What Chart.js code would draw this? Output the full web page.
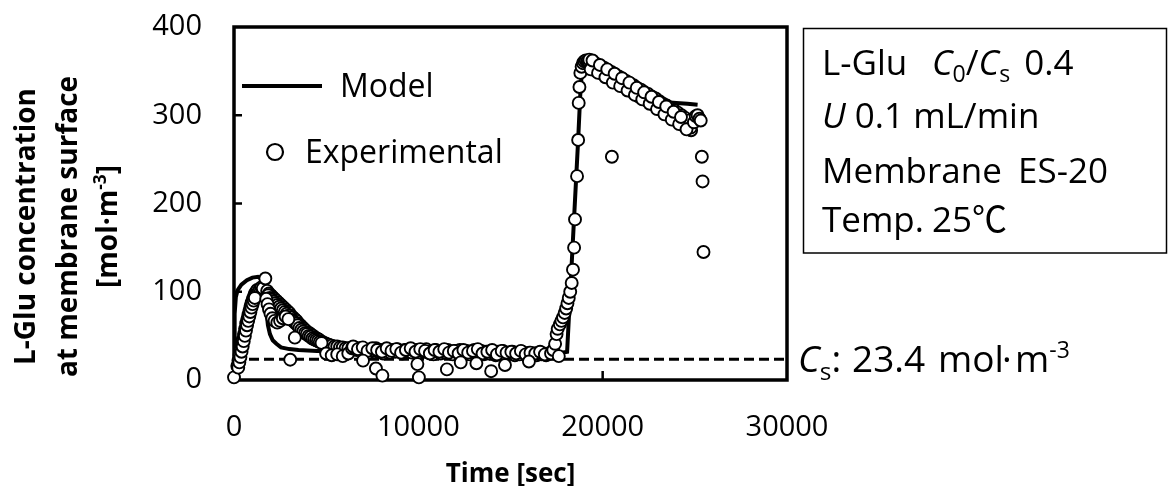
<!DOCTYPE html>
<html>
<head>
<meta charset="utf-8">
<script src="https://cdn.jsdelivr.net/npm/chart.js@4.4.1/dist/chart.umd.min.js"></script>
<style>
  html, body { margin: 0; padding: 0; background: #fff; }
</style>
</head>
<body>
<canvas id="gluChart" width="1169" height="486"></canvas>
<script>
/* Data */
const xTicks = [0, 10000, 20000, 30000];
const yTicks = [0, 100, 200, 300, 400];
const csValue = 23.4;

// model curve
const modelTime = [0, 20, 50, 100, 200, 400, 700, 1000, 1300, 1450, 1600, 1680, 1740, 1840, 1950, 2100, 2300, 2550, 3000, 3500, 4500, 6000, 8000, 10000, 12000, 14000, 16000, 17000, 17800, 18070, 18670, 18800, 18900, 19050, 19200, 19600, 20000, 20500, 21000, 21500, 22000, 22500, 22850, 23300, 24000, 24600, 25150];
const modelConc = [0, 45, 75, 94, 102, 108, 113, 116, 117, 115, 108, 99, 82, 62, 52, 45, 41, 37, 35, 34, 33, 33, 32, 31, 31, 30, 30, 30, 31, 32, 272, 330, 355, 362, 361, 358, 353, 347, 340, 334, 328, 322, 317, 315, 314, 313, 312];

// experimental points
const expTime = [
  0, 180, 240, 300, 360, 420, 480, 540, 600, 660, 720, 780, 840, 900, 960, 1020, 1080, 1140, 1200, 1260, 1330, 1400, 1480, 1560, 1700,
  230, 290, 350, 410, 470, 530, 590, 650, 710, 770, 830, 890, 950, 1010, 1070, 1130,
  1800, 1900, 2000, 2100, 2200, 2300, 2400, 2500, 2600, 2700, 2800, 2900, 3000, 3100, 3200, 3300, 3400, 3500, 3600, 3700,
  3800, 3900, 4000, 4100, 4200, 4300, 4400, 4500, 4600, 4700, 4800, 4900, 5000, 5150, 5300, 5450, 5600, 5750, 5900, 6050, 6200,
  1850, 1950, 2050, 2150, 2250, 2350, 2450, 2550, 2650, 2750, 2850, 2950, 3050, 3150, 3250,
  3350, 3450, 3550, 3650, 3750, 3850, 3950, 4050, 4150, 4250, 4350, 4450, 4550, 4650, 4750,
  1750, 1820, 1900, 1980, 2080, 2200, 2350, 2500, 2650, 2800, 2950,
  3050, 3300, 5000, 5300, 5600, 5900, 6200,
  6400, 6530, 6660, 6790, 6920, 7050, 7180, 7310, 7440, 7570,
  7700, 7830, 7960, 8090, 8220, 8350, 8480, 8610, 8740, 8870,
  9000, 9130, 9260, 9390, 9520, 9650, 9780, 9910, 10040, 10170,
  10300, 10430, 10560, 10690, 10820, 10950, 11080, 11210, 11340, 11470,
  11600, 11730, 11860, 11990, 12120, 12250, 12380, 12510, 12640, 12770,
  12900, 13030, 13160, 13290, 13420, 13550, 13680, 13810, 13940, 14070,
  14200, 14330, 14460, 14590, 14720, 14850, 14980, 15110, 15240, 15370,
  15500, 15630, 15760, 15890, 16020, 16150, 16280, 16410, 16540, 16670,
  16800, 16930, 17060,
  6465, 6725, 6985, 7245, 7505, 7765, 8025, 8285, 8545, 8805,
  9065, 9325, 9585, 9845, 10105, 10365, 10625, 10885, 11145, 11405,
  11665, 11925, 12185, 12445, 12705, 12965, 13225, 13485, 13745, 14005,
  14265, 14525, 14785, 15045, 15305, 15565, 15825, 16085, 16345, 16605,
  16865,
  7000, 7700, 8050, 9950, 10030, 11550, 12300, 13150, 13950, 14700, 16000,
  17200, 17320, 17420, 17500, 17560, 17620, 17680, 17760, 17850, 17940, 18020, 18090, 18160, 18240, 18320,
  18390, 18450, 18500, 18610, 18670, 18700, 18740, 18790, 18860, 18930, 19000, 19080, 19160, 19240,
  19300, 19400, 19500, 19600, 19700, 19800, 19900, 20000, 20100, 20200,
  20300, 20400, 20500, 20600, 20700, 20800, 20900, 21000, 21100, 21200,
  21300, 21400, 21500, 21600, 21700, 21800, 21900, 22000, 22100, 22200,
  22300, 22400, 22500, 22600, 22700, 22800, 22900, 23000, 23100, 23200,
  23300, 23400, 23500, 23600, 23700, 23800, 23900, 24000, 24100, 24200,
  24300, 24400, 24500, 24600, 24700, 24800,
  19275, 19375, 19475, 19575, 19675, 19775, 19875, 19975, 20075, 20175,
  20275, 20375, 20475, 20575, 20675, 20775, 20875, 20975, 21075, 21175,
  21275, 21375, 21475, 21575, 21675, 21775, 21875, 21975, 22075, 22175,
  22275, 22375, 22475, 22575, 22675, 22775, 22875, 22975, 23075, 23175,
  23275, 23375, 23475, 23575, 23675, 23775, 23875, 23975, 24075, 24175,
  24275, 24375, 24475, 24575, 24675, 24775,
  19350, 19750, 20150, 20550, 20950, 21350, 21750, 22150, 22550, 22950, 23350, 23750, 24150, 24550,
  19450, 19850, 20250, 20650, 21050, 21450, 21850, 22250, 22650, 23050, 23450, 23850, 24250,
  24950, 25050, 25150, 25250, 25320,
  20500, 25380, 25420, 25470
];
const expConc = [
  3, 16, 22, 28, 34, 40, 46, 52, 58, 64, 69, 74, 79, 84, 88, 92, 95, 98, 100, 102, 100, 103, 105, 104, 115,
  14, 20, 26, 32, 38, 44, 50, 56, 62, 67, 72, 77, 82, 86, 90, 93,
  101, 98, 96, 94, 92, 90, 88, 86, 84, 82, 80, 78, 76, 73, 71, 69, 67, 64, 62, 60,
  58, 56, 54, 53, 51, 50, 48, 47, 46, 44, 43, 42, 41, 40, 39, 38, 38, 37, 37, 36, 36,
  96, 93, 91, 89, 87, 85, 83, 81, 79, 77, 75, 73, 71, 68, 66,
  64, 62, 59, 57, 55, 53, 52, 50, 49, 47, 46, 45, 44, 43, 42,
  92, 86, 80, 75, 70, 67, 65, 67, 70, 72, 69,
  23, 48, 30, 28, 29, 27, 30,
  36, 37, 34, 36, 33, 35, 34, 31, 35, 33,
  36, 32, 34, 30, 35, 33, 31, 34, 32, 35,
  33, 30, 34, 32, 35, 31, 33, 34, 30, 33,
  32, 35, 31, 33, 29, 34, 32, 30, 33, 31,
  34, 32, 29, 33, 31, 34, 30, 32, 33, 29,
  32, 34, 30, 31, 33, 29, 32, 30, 33, 31,
  28, 32, 30, 33, 29, 31, 30, 32, 28, 31,
  29, 32, 30, 28, 31, 29, 30, 28, 31, 29,
  30, 28, 30,
  38, 35, 37, 33, 36, 34, 32, 36, 33, 35,
  31, 34, 36, 32, 35, 33, 30, 34, 32, 35,
  31, 33, 30, 34, 31, 33, 35, 30, 32, 34,
  29, 33, 31, 32, 30, 33, 29, 31, 30, 32,
  29,
  22, 13, 5, 18, 3, 12, 20, 19, 10, 17, 21,
  30, 34, 41, 52, 58, 27, 63, 67, 71, 76, 81, 87, 93, 100, 110,
  125, 150, 182, 231, 272, 314, 332, 348, 355, 359, 361, 362, 361, 360,
  358, 356, 357, 354, 352, 353, 350, 349, 347, 348,
  345, 344, 342, 343, 340, 338, 339, 336, 335, 333,
  334, 331, 329, 330, 327, 325, 326, 323, 321, 322,
  319, 317, 318, 315, 313, 312, 310, 309, 307, 308,
  305, 303, 302, 300, 299, 297, 296, 294, 293, 291,
  290, 288, 287, 286, 284, 283,
  363, 353, 361, 351, 358, 349, 356, 347, 354, 344,
  351, 342, 349, 339, 346, 337, 344, 334, 341, 332,
  339, 329, 336, 327, 334, 324, 331, 321, 329, 319,
  326, 317, 324, 314, 321, 312, 319, 309, 316, 306,
  313, 304, 311, 301, 308, 299, 306, 296, 303, 293,
  300, 291, 297, 288, 294, 286,
  352, 348, 343, 337, 333, 328, 323, 318, 313, 307, 301, 295, 290, 284,
  362, 357, 352, 347, 342, 337, 331, 326, 321, 315, 310, 304, 298,
  292, 299, 300, 296, 294,
  253, 253, 225, 145
];

const FONT = "'Open Sans', 'Noto Sans CJK JP', sans-serif";

/* draws a run of text pieces (italic / subscript / superscript) from x */
function drawRuns(ctx, x, y, runs, size, weight) {
  runs.forEach((r) => {
    let s = size;
    let dy = 0;
    if (r.sub) { s = size * 0.66; dy = size * 0.2; }
    if (r.sup) { s = size * 0.62; dy = -size * 0.38; }
    ctx.font = (r.it ? "italic " : "") + (weight || "normal") + " " + s + "px " + FONT;
    ctx.fillText(r.t, x, y + dy);
    x += ctx.measureText(r.t).width;
  });
  return x;
}

function runsWidth(ctx, runs, size, weight) {
  let w = 0;
  runs.forEach((r) => {
    const s = r.sub ? size * 0.66 : r.sup ? size * 0.62 : size;
    ctx.font = (r.it ? "italic " : "") + (weight || "normal") + " " + s + "px " + FONT;
    w += ctx.measureText(r.t).width;
  });
  return w;
}

// axis frame and inward tick marks
const framePlugin = {
  id: "frame",
  beforeDatasetsDraw(chart) {
    const { ctx, chartArea: a } = chart;
    const { x, y } = chart.scales;
    ctx.save();
    ctx.strokeStyle = "#000";
    ctx.lineWidth = 3.5;
    ctx.strokeRect(a.left, a.top, a.right - a.left, a.bottom - a.top);
    ctx.lineWidth = 2.5;
    ctx.beginPath();
    yTicks.slice(1, -1).forEach((v) => {
      const py = y.getPixelForValue(v);
      ctx.moveTo(a.left, py);
      ctx.lineTo(a.left + 8, py);
    });
    xTicks.slice(1, -1).forEach((v) => {
      const px = x.getPixelForValue(v);
      ctx.moveTo(px, a.bottom);
      ctx.lineTo(px, a.bottom - 9);
    });
    ctx.stroke();
    ctx.restore();
  },
};

// legend, condition box, Cs label and axis titles
const notesPlugin = {
  id: "notes",
  afterDraw(chart) {
    const { ctx, chartArea: a } = chart;
    const y = chart.scales.y;
    ctx.save();
    ctx.fillStyle = "#000";
    ctx.strokeStyle = "#000";
    ctx.textAlign = "left";
    ctx.textBaseline = "alphabetic";

    // legend
    ctx.lineWidth = 4;
    ctx.beginPath();
    ctx.moveTo(242, 86);
    ctx.lineTo(322, 86);
    ctx.stroke();
    ctx.font = "32px " + FONT;
    ctx.fillText("Model", 340, 97);
    ctx.beginPath();
    ctx.arc(275, 152, 8, 0, Math.PI * 2);
    ctx.fillStyle = "#fff";
    ctx.fill();
    ctx.lineWidth = 2.2;
    ctx.stroke();
    ctx.fillStyle = "#000";
    ctx.fillText("Experimental", 305, 163);

    // condition box
    ctx.lineWidth = 1.5;
    ctx.strokeRect(803.5, 28.5, 363, 224.5);
    const bs = 35;
    drawRuns(ctx, 822, 75, [{ t: "L-Glu" }], bs);
    const ratioEnd = drawRuns(ctx, 932, 75, [{ t: "C", it: 1 }, { t: "0", sub: 1 }, { t: "/" }, { t: "C", it: 1 }, { t: "s", sub: 1 }], bs);
    drawRuns(ctx, ratioEnd + 14, 75, [{ t: "0.4" }], bs);
    drawRuns(ctx, 822, 128, [{ t: "U", it: 1 }, { t: " 0.1 mL/min" }], bs);
    drawRuns(ctx, 822, 183, [{ t: "Membrane" }], bs);
    drawRuns(ctx, 1018, 183, [{ t: "ES-20" }], bs);
    drawRuns(ctx, 822, 232, [{ t: "Temp." }], bs);
    drawRuns(ctx, 932, 232, [{ t: "25℃" }], bs);

    // Cs label next to the dashed line
    const cy = y.getPixelForValue(csValue) + 13;
    const cs = 37;
    drawRuns(ctx, 798, cy, [{ t: "C", it: 1 }, { t: "s", sub: 1 }, { t: ":" }], cs);
    drawRuns(ctx, 852, cy, [{ t: "23.4" }], cs);
    drawRuns(ctx, 938, cy, [{ t: "mol" }], cs);
    drawRuns(ctx, 1002, cy, [{ t: "·" }], cs);
    drawRuns(ctx, 1015, cy, [{ t: "m" }, { t: "-3", sup: 1 }], cs);

    // y axis title, three rotated lines
    const ts = 28;
    const midY = (a.top + a.bottom) / 2 + 23;
    const lines = [
      { base: 35, runs: [{ t: "L-Glu concentration" }] },
      { base: 77, runs: [{ t: "at membrane surface" }] },
      { base: 117, runs: [{ t: "[mol·m" }, { t: "-3", sup: 1 }, { t: "]" }] },
    ];
    lines.forEach((ln) => {
      ctx.save();
      ctx.translate(ln.base, midY);
      ctx.rotate(-Math.PI / 2);
      const w = runsWidth(ctx, ln.runs, ts, "bold");
      drawRuns(ctx, -w / 2, 0, ln.runs, ts, "bold");
      ctx.restore();
    });

    // x axis title
    ctx.font = "bold 26px " + FONT;
    ctx.textAlign = "center";
    ctx.fillText("Time [sec]", (a.left + a.right) / 2, 482);
    ctx.restore();
  },
};

const expPoints = expTime.map((t, i) => ({ x: t, y: expConc[i] }));
const modelPoints = modelTime.map((t, i) => ({ x: t, y: modelConc[i] }));
const csPoints = [
  { x: xTicks[0], y: csValue },
  { x: xTicks[xTicks.length - 1], y: csValue },
];

new Chart(document.getElementById("gluChart"), {
  type: "scatter",
  data: {
    datasets: [
      {
        label: "Experimental",
        data: expPoints,
        backgroundColor: "#fff",
        borderColor: "#000",
        pointRadius: 6,
        pointBorderWidth: 1.9,
        clip: false,
      },
      {
        label: "Model",
        data: modelPoints,
        showLine: true,
        borderColor: "#000",
        borderWidth: 4,
        pointRadius: 0,
        tension: 0,
      },
      {
        label: "Cs",
        data: csPoints,
        showLine: true,
        borderColor: "#000",
        borderWidth: 3,
        borderDash: [10, 5],
        pointRadius: 0,
      },
    ],
  },
  options: {
    responsive: false,
    animation: false,
    devicePixelRatio: 1,
    layout: { padding: { top: 27, right: 382, left: 0, bottom: 0 } },
    plugins: { legend: { display: false }, tooltip: { enabled: false } },
    scales: {
      x: {
        type: "linear",
        min: 0,
        max: 30000,
        grid: { display: false, drawTicks: false },
        border: { display: false },
        ticks: {
          stepSize: 10000,
          padding: 30,
          color: "#000",
          maxRotation: 0,
          autoSkip: false,
          font: { family: FONT, size: 29 },
          callback: (v) => String(v),
        },
        afterFit: (s) => {
          s.height = 106;
          s.paddingLeft = 0;
          s.paddingRight = 0;
        },
      },
      y: {
        type: "linear",
        min: 0,
        max: 400,
        grid: { display: false, drawTicks: false },
        border: { display: false },
        ticks: {
          stepSize: 100,
          padding: 32,
          color: "#000",
          font: { family: FONT, size: 29 },
          callback: (v) => String(v),
        },
        afterFit: (s) => {
          s.width = 234;
          s.paddingTop = 0;
          s.paddingBottom = 0;
        },
      },
    },
  },
  plugins: [framePlugin, notesPlugin],
});
</script>
</body>
</html>
